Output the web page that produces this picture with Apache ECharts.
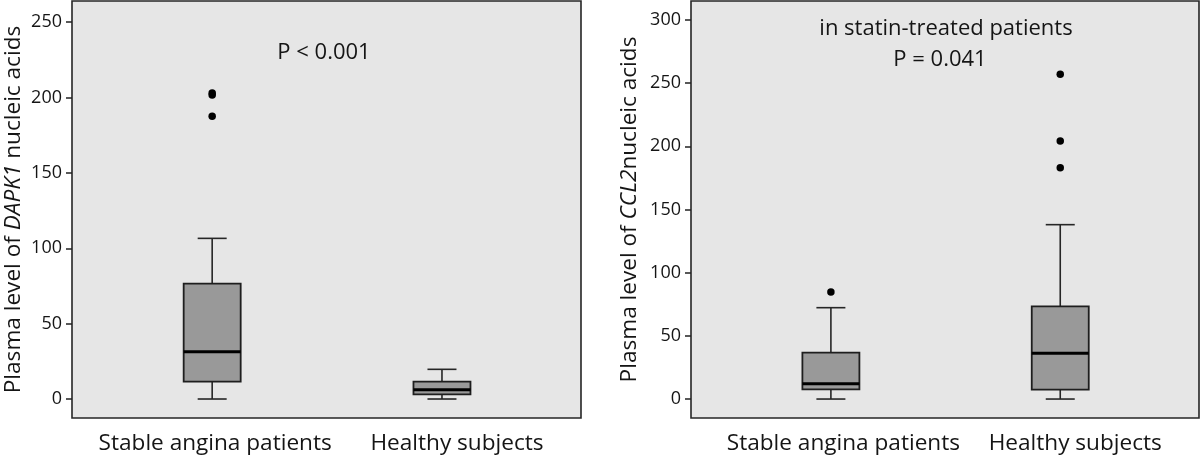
<!DOCTYPE html>
<html><head><meta charset="utf-8">
<script src="https://cdn.jsdelivr.net/npm/echarts@6/dist/echarts.min.js"></script>
<style>html,body{margin:0;padding:0;background:#fff}#c{width:1200px;height:460px}</style>
</head><body><div id="c"></div>
<script>
// ---- data ----
const categories = ['Stable angina patients', 'Healthy subjects'];
const yTicksLeft = [0, 50, 100, 150, 200, 250];
const yTicksRight = [0, 50, 100, 150, 200, 250, 300];
// [position, min, Q1, median, Q3, max]
const dapk1Boxes = [[1, 0, 11.5, 31.4, 76.5, 106.6], [2, 0, 3.1, 6.2, 11.5, 19.7]];
const dapk1Outliers = [[1, 201.8], [1, 203], [1, 187.6]];
const ccl2Boxes = [[1, 0, 7.7, 12.1, 36.7, 72.3], [2, 0, 7.4, 36.2, 73.4, 138]];
const ccl2Outliers = [[1, 84.7], [2, 257], [2, 204.2], [2, 183.1]];

const FONT = 'Open Sans';
const TXT = '#151515';

function renderBox(params, api) {
  const x = api.value(0);
  const pMin = api.coord([x, api.value(1)]);
  const pQ1 = api.coord([x, api.value(2)]);
  const pMed = api.coord([x, api.value(3)]);
  const pQ3 = api.coord([x, api.value(4)]);
  const pMax = api.coord([x, api.value(5)]);
  const cx = pMed[0], bw = 57, cw = 29;
  const ls = {stroke: '#262626', lineWidth: 1.6};
  return {type: 'group', children: [
    {type: 'line', shape: {x1: cx, y1: pMax[1], x2: cx, y2: pQ3[1]}, style: ls},
    {type: 'line', shape: {x1: cx, y1: pQ1[1], x2: cx, y2: pMin[1]}, style: ls},
    {type: 'line', shape: {x1: cx - cw / 2, y1: pMax[1], x2: cx + cw / 2, y2: pMax[1]}, style: ls},
    {type: 'line', shape: {x1: cx - cw / 2, y1: pMin[1], x2: cx + cw / 2, y2: pMin[1]}, style: ls},
    {type: 'rect', shape: {x: cx - bw / 2, y: pQ3[1], width: bw, height: pQ1[1] - pQ3[1]},
      style: {fill: '#999999', stroke: '#1e1e1e', lineWidth: 1.8}},
    {type: 'line', shape: {x1: cx - bw / 2, y1: pMed[1], x2: cx + bw / 2, y2: pMed[1]},
      style: {stroke: '#000', lineWidth: 3}}
  ]};
}

function xAxisFor(gi) {
  return {
    type: 'value', gridIndex: gi, min: 0.39, max: 2.605,
    axisLine: {show: false}, axisTick: {show: false}, splitLine: {show: false},
    axisLabel: {
      customValues: [1, 2], margin: 14, fontFamily: FONT, fontSize: 22.6, color: TXT,
      formatter: v => v === 1 ? '{a|' + categories[0] + '}' : '{b|' + categories[1] + '}',
      rich: {
        a: {fontFamily: FONT, fontSize: 22.6, color: TXT, padding: [0, 0, 0, gi === 0 ? 6 : 25]},
        b: {fontFamily: FONT, fontSize: 22.6, color: TXT, padding: [0, 0, 0, 30]}
      }
    }
  };
}
function yAxisFor(gi, min, max, ticks, name, gap) {
  return {
    type: 'value', gridIndex: gi, min: min, max: max,
    splitLine: {show: false},
    axisLine: {show: false},
    axisTick: {show: true, customValues: ticks, length: 6, lineStyle: {color: '#222', width: 1.5}},
    axisLabel: {customValues: ticks, margin: 10, fontFamily: FONT, fontSize: 18, color: TXT},
    name: name, nameLocation: 'middle', nameGap: gap,
    nameTextStyle: {fontFamily: FONT, fontSize: 22.6, color: TXT,
      rich: {n: {fontFamily: FONT, fontSize: 22.6, color: TXT},
             i: {fontFamily: FONT, fontSize: 22.6, color: TXT, fontStyle: 'italic'}}}
  };
}

const chart = echarts.init(document.getElementById('c'), null, {renderer: 'canvas'});
chart.setOption({
  animation: false,
  backgroundColor: '#ffffff',
  grid: [
    {left: 72, top: 1, width: 509, height: 417, show: true, backgroundColor: '#e6e6e6', borderColor: '#262626', borderWidth: 1.6},
    {left: 691, top: 1, width: 508, height: 417, show: true, backgroundColor: '#e6e6e6', borderColor: '#262626', borderWidth: 1.6}
  ],
  xAxis: [xAxisFor(0), xAxisFor(1)],
  yAxis: [
    yAxisFor(0, -12.6, 264.1, yTicksLeft, '{n|Plasma level of }{i|DAPK1}{n| nucleic acids}', 47),
    yAxisFor(1, -15, 315, yTicksRight, '{n|Plasma level of }{i|CCL2}{n|nucleic acids}', 50)
  ],
  series: [
    {type: 'custom', xAxisIndex: 0, yAxisIndex: 0, data: dapk1Boxes, renderItem: renderBox, encode: {x: 0, y: [1, 2, 3, 4, 5]}},
    {type: 'scatter', xAxisIndex: 0, yAxisIndex: 0, data: dapk1Outliers, symbolSize: 7.5, itemStyle: {color: '#000', opacity: 1}},
    {type: 'custom', xAxisIndex: 1, yAxisIndex: 1, data: ccl2Boxes, renderItem: renderBox, encode: {x: 0, y: [1, 2, 3, 4, 5]}},
    {type: 'scatter', xAxisIndex: 1, yAxisIndex: 1, data: ccl2Outliers, symbolSize: 7.5, itemStyle: {color: '#000', opacity: 1}}
  ],
  graphic: [
    {type: 'text', x: 324, y: 53, style: {text: 'P < 0.001', fontFamily: FONT, fontSize: 22, fill: TXT, align: 'center', verticalAlign: 'middle'}},
    {type: 'text', x: 946, y: 29, style: {text: 'in statin-treated patients', fontFamily: FONT, fontSize: 22, fill: TXT, align: 'center', verticalAlign: 'middle'}},
    {type: 'text', x: 940, y: 60, style: {text: 'P = 0.041', fontFamily: FONT, fontSize: 22, fill: TXT, align: 'center', verticalAlign: 'middle'}}
  ]
});
</script></body></html>
